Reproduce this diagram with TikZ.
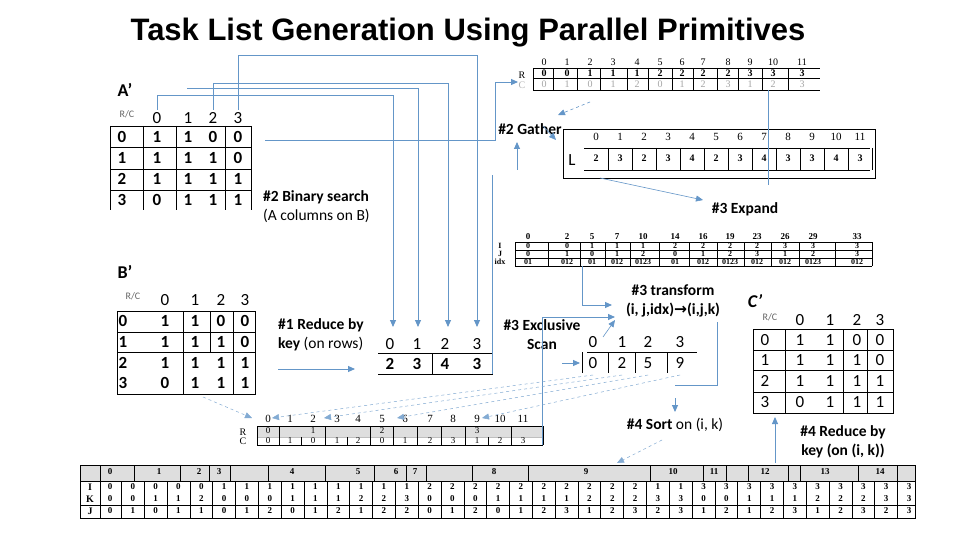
\documentclass[tikz,border=0pt]{standalone}
\usepackage{fontspec}
\setmainfont{Carlito}
\newfontfamily\tms{Liberation Serif}
\newfontfamily\ars{Liberation Sans}
\newfontfamily\djv{DejaVu Sans}
\usetikzlibrary{arrows.meta}
\definecolor{conn}{RGB}{100,150,200}
\definecolor{cellgrey}{RGB}{222,222,222}
\tikzset{
 arr/.style={conn,line width=0.9pt,-{Triangle[length=7pt,width=6pt]}},
 ln/.style={conn,line width=0.9pt},
 dsh/.style={conn!80,dashed,line width=0.5pt,-{Triangle[length=7pt,width=6pt]}},
 tb/.style={font=\tms\fontsize{9}{9}\selectfont\bfseries,inner sep=0pt},
 tbg/.style={font=\tms\fontsize{9}{9}\selectfont,text=gray!70,inner sep=0pt},
 mx/.style={font=\fontsize{17}{17}\selectfont,inner sep=0pt},
 mxb/.style={font=\fontsize{17}{17}\selectfont\bfseries,inner sep=0pt},
 rc/.style={font=\fontsize{10}{10}\selectfont,text=gray!80!black,inner sep=0pt},
 lbl/.style={font=\fontsize{15.5}{19}\selectfont,inner sep=0pt,align=center},
 grid/.style={line width=0.7pt}
}
\begin{document}
\begin{tikzpicture}[x=1pt,y=-1pt]
\useasboundingbox (0,0) rectangle (960,540);
\fill[white] (0,0) rectangle (960,540);
\node[font=\ars\bfseries\fontsize{31}{31}\selectfont,inner sep=0] (title) at (468,33) {Task List Generation Using Parallel Primitives};

% ---------- A'
\node[font=\fontsize{18}{18}\selectfont\bfseries] (Alab) at (125,90) {A’};
\node[rc] (Arc) at (127,114) {R/C};
\foreach \x/\t [count=\i] in {157/0,188/1,213/2,238/3} \node[mx] (Ah\i) at (\x,118) {\t};
\draw[grid] (110,126)--(251,126) (110,147)--(251,147) (110,169)--(251,169) (110,190)--(251,190);
\foreach \x in {110,143,176,225,251} \draw[grid] (\x,126)--(\x,210);
\foreach \y/\r/\a/\b/\c/\d [count=\i] in {137/0/1/1/0/0,158/1/1/1/1/0,179/2/1/1/1/1,200/3/0/1/1/1}{
 \node[mxb] (Ar\i) at (122,\y) {\r};
 \node[mxb] (Aa\i) at (157,\y) {\a}; \node[mxb] (Ab\i) at (188,\y) {\b};
 \node[mxb] (Ac\i) at (213,\y) {\c}; \node[mxb] (Ad\i) at (238,\y) {\d};}

% ---------- B'
\node[font=\fontsize{18}{18}\selectfont\bfseries] (Blab) at (125,272) {B’};
\node[rc] (Brc) at (133,296) {R/C};
\foreach \x/\t [count=\i] in {165/0,195/1,221/2,245/3} \node[mx] (Bh\i) at (\x,300) {\t};
\draw[grid] (117,311) rectangle (255,394);
\draw[grid] (117,332)--(255,332) (117,352)--(255,352);
\draw[grid] (183,311)--(183,394) (233,311)--(233,394) (210,311)--(210,352);
\foreach \y/\r/\a/\b/\c/\d [count=\i] in {321/0/1/1/0/0,342/1/1/1/1/0,363/2/1/1/1/1,383/3/0/1/1/1}{
 \node[mxb] (Br\i) at (123,\y) {\r};
 \node[mxb] (Ba\i) at (165,\y) {\a}; \node[mxb] (Bb\i) at (195,\y) {\b};
 \node[mxb] (Bc\i) at (221,\y) {\c}; \node[mxb] (Bd\i) at (245,\y) {\d};}

% ---------- labels
\node[lbl,anchor=west,align=left] (bs) at (263,207) {\textbf{\#2 Binary search}\\(A columns on B)};
\node[lbl,anchor=west,align=left] (red1) at (278,335) {\textbf{\#1 Reduce by}\\\textbf{key} (on rows)};
\node[lbl] (gather) at (530,129) {\textbf{\#2 Gather}};
\node[lbl] (expand) at (745,209) {\textbf{\#3 Expand}};
\node[lbl] (trans) at (673,301) {\textbf{\#3 transform}\\\textbf{(i, j,idx){\djv\bfseries →}(i,j,k)}};
\node[lbl] (scanl) at (542,335) {\textbf{\#3 Exclusive}\\\textbf{Scan}};
\node[lbl] (sortl) at (675,425) {\textbf{\#4 Sort} on (i, k)};
\node[lbl] (red4) at (843,442) {\textbf{\#4 Reduce by}\\\textbf{key (on (i, k))}};

% ---------- reduce array
\foreach \x/\t [count=\i] in {390/0,417/1,445/2,477/3} \node[mx] (Rh\i) at (\x,344) {\t};
\foreach \x/\t [count=\i] in {390/2,417/3,445/4,477/3} \node[mxb] (Rv\i) at (\x,364) {\t};
\draw[grid] (378,353)--(493,353) (378,374)--(493,374) (432,353)--(432,374);

% ---------- R/C top table
\node[font=\tms\fontsize{10}{10}\selectfont] (RCr) at (522,75) {R};
\node[font=\tms\fontsize{10}{10}\selectfont,text=gray!60] (RCc) at (522,85) {C};
\foreach \x/\r/\c [count=\i] in {544/0/0,567/0/1,590/1/0,613/1/1,637/1/2,660/2/0,682/2/1,703/2/2,728/2/3,750/3/1,773/3/2,802/3/3}{
 \node[inner sep=0,font=\tms\fontsize{10}{10}\selectfont] (RCh\i) at (\x,62) {\the\numexpr\i-1\relax};
 \node[tb,font=\tms\fontsize{10}{10}\selectfont\bfseries] (RCv\i) at (\x,73) {\r};
 \node[tbg,font=\tms\fontsize{10}{10}\selectfont] (RCw\i) at (\x,84) {\c};}
\draw[grid] (533,68)--(820,68) (533,78)--(820,78) (533,90)--(820,90);
\foreach \x in {533,553,577,600,627,648,672,693,717,738,762,788} \draw[grid] (\x,68)--(\x,90);

% ---------- L table
\draw[grid] (563,129) rectangle (875,178);
\node[font=\fontsize{17}{17}\selectfont] (Llab) at (572,160) {L};
\draw[grid] (584,148)--(870,148) (584,170)--(870,170);
\foreach \v [count=\i] in {2,3,2,3,4,2,3,4,3,3,4,3}{
 \node[font=\tms\fontsize{11}{11}\selectfont,inner sep=0] (Lh\i) at ({584+24*\i-12},137) {\the\numexpr\i-1\relax};
 \node[tb,font=\tms\fontsize{10}{10}\selectfont\bfseries] (Lv\i) at ({584+24*\i-12},158) {\v};
 \draw[grid] ({584+24*\i},148)--({584+24*\i},170);}

% ---------- Expand table
\foreach \t [count=\i] in {I,J,idx} \node[tb,font=\tms\fontsize{8}{8}\selectfont\bfseries] (El\i) at (500,{238+8*\i}) {\t};
\draw[grid] (515,242)--(872,242) (515,250)--(872,250) (515,258)--(872,258) (515,266)--(872,266);
\foreach \x in {515,548,580,605,630,659,689,717,744,771,799,835,872} \draw[grid] (\x,242)--(\x,266);
\foreach \x/\h/\a/\b/\c [count=\i] in {528/0/0/0/01,567/2/0/1/012,592/5/1/0/01,617/7/1/1/012,643/10/1/2/0123,675/14/2/0/01,703/16/2/1/012,730/19/2/2/0123,757/23/2/3/012,785/26/3/1/012,813/29/3/2/0123,857/33/3/3/012}{
 \node[tb] (Eh\i) at (\x,237) {\h};
 \node[tb,font=\tms\fontsize{8}{8}\selectfont\bfseries] (Ea\i) at (\x,246) {\a};
 \node[tb,font=\tms\fontsize{8}{8}\selectfont\bfseries] (Eb\i) at (\x,254) {\b};
 \node[tb,font=\tms\fontsize{8}{8}\selectfont\bfseries] (Ec\i) at (\x,262) {\c};}

% ---------- Scan table
\foreach \x/\h/\v [count=\i] in {593/0/0,622/1/2,648/2/5,680/3/9}{
 \node[mx] (Sh\i) at (\x,342) {\h}; \node[mx] (Sv\i) at (\x,363) {\v};}
\draw[grid] (587,352)--(697,352);
\foreach \x in {582,608,635,667} \draw[grid] (\x,352)--(\x,373);

% ---------- C'
\node[font=\fontsize{18}{18}\selectfont\bfseries\itshape] (Clab) at (755,301) {C’};
\node[rc] (Crc) at (770,317) {R/C};
\foreach \x/\t [count=\i] in {800/0,830/1,857/2,880/3} \node[mx] (Ch\i) at (\x,320) {\t};
\draw[grid] (753,329) rectangle (893,413);
\foreach \y in {350,370,392} \draw[grid] (753,\y)--(893,\y);
\foreach \x in {785,843,867} \draw[grid] (\x,329)--(\x,413);
\foreach \y/\r/\a/\b/\c/\d [count=\i] in {340/0/1/1/0/0,360/1/1/1/1/0,381/2/1/1/1/1,402/3/0/1/1/1}{
 \node[mx] (Cr\i) at (765,\y) {\r};
 \node[mx] (Ca\i) at (800,\y) {\a}; \node[mx] (Cb\i) at (830,\y) {\b};
 \node[mx] (Cc\i) at (857,\y) {\c}; \node[mx] (Cd\i) at (880,\y) {\d};}

% ---------- sorted R/C table
\fill[cellgrey] (257,426) rectangle (543,437);
\draw[grid] (257,426)--(543,426) (257,445)--(543,445);
\draw[gray!50,line width=0.4pt] (257,437)--(543,437);
\node[font=\tms\fontsize{10}{10}\selectfont] (SRr) at (243,432) {R};
\node[font=\tms\fontsize{10}{10}\selectfont] (SRc) at (243,441) {C};
\foreach \x/\c [count=\i] in {268/0,290/1,313/0,337/1,358/2,382/0,405/1,430/2,453/3,477/1,500/2,523/3}{
 \node[font=\tms\fontsize{11}{11}\selectfont,inner sep=0] (SRh\i) at (\x,419) {\the\numexpr\i-1\relax};
 \node[font=\tms\fontsize{9}{9}\selectfont,inner sep=0] (SRw\i) at (\x,441) {\c};}
\foreach \x/\r [count=\i] in {268/0,313/1,382/2,477/3} \node[font=\tms\fontsize{9}{9}\selectfont,inner sep=0] (SRv\i) at (\x,431) {\r};
\foreach \x in {257,279,301,325,347,370,393,417,441,465,488,511,543} \draw[grid] (\x,437)--(\x,445);
\foreach \x in {257,279,325,370,393,417,441,465,511,543} \draw[grid] (\x,426)--(\x,437);

% ---------- bottom table
\fill[cellgrey] (80,465) rectangle (915,481);
\draw[grid] (80,465) rectangle (915,518);
\draw[grid] (80,481)--(915,481) (80,505)--(915,505);
\draw[grid] (100,465)--(100,518);
\foreach \t/\y [count=\i] in {I/487,K/499,J/511} \node[font=\tms\fontsize{10}{10}\selectfont\bfseries,inner sep=0] (BTl\i) at (90,\y) {\t};
\foreach \x [count=\i] in {110,159,199,219,292,358,396,415,494,586,673,714,765,825,880} \node[tb,font=\tms\fontsize{9}{9}\selectfont\bfseries] (BTh\i) at (\x,472) {\the\numexpr\i-1\relax};
\foreach \v [count=\i] in {0,0,0,0,0,1,1,1,1,1,1,1,1,1,2,2,2,2,2,2,2,2,2,2,1,1,3,3,3,3,3,3,3,3,3,3}
 \node[tb,font=\tms\fontsize{9}{9}\selectfont\bfseries] (BTi\i) at ({110+22.83*(\i-1)},487) {\v};
\foreach \v [count=\i] in {0,0,1,1,2,0,0,0,1,1,1,2,2,3,0,0,0,1,1,1,1,2,2,2,3,3,0,0,1,1,1,2,2,2,3,3}
 \node[tb,font=\tms\fontsize{9}{9}\selectfont\bfseries] (BTk\i) at ({110+22.83*(\i-1)},499) {\v};
\foreach \v [count=\i] in {0,1,0,1,1,0,1,2,0,1,2,1,2,2,0,1,2,0,1,2,3,1,2,3,2,3,1,2,1,2,3,1,2,3,2,3}
 \node[tb,font=\tms\fontsize{9}{9}\selectfont\bfseries] (BTj\i) at ({110+22.83*(\i-1)},511) {\v};
\foreach \i in {1,...,35} \draw[grid] ({110+22.83*(\i-1)+11.4},481)--({110+22.83*(\i-1)+11.4},518);
\foreach \x in {134,180,209,230,268,325,374,406,426,472,528,650,703,726,748,788,800,858,897} \draw[grid] (\x,465)--(\x,481);

% ---------- connectors
\draw[arr] (157,110)--(157,95)--(393,95)--(393,327);
\draw[arr] (187,88)--(418,88)--(418,327);
\draw[arr] (213,110)--(213,83)--(448,83)--(448,327);
\draw[arr] (238,110)--(238,55)--(477,55)--(477,327);
\draw[arr] (265,140)--(495,140)--(495,82)--(518,82);
\draw[ln] (492,374)--(492,175);
\draw[arr] (517,170)--(517,142);
\draw[arr,line width=0.6pt,dashed] (590,102)--(558,115);
\draw[arr,line width=0.6pt] (543,126)--(556,140);
\draw[arr,line width=0.6pt] (600,178)--(703,200);
\draw[ln,line width=0.6pt] (768,90)--(768,185);
\draw[arr] (582,266)--(582,305)--(612,305);
\draw[arr] (542,445)--(542,317)--(615,317);
\draw[arr,line width=0.6pt] (603,337)--(615,320);
\draw[arr] (562,363)--(580,363);
\draw[ln] (717,322)--(717,385)--(675,385);
\draw[arr] (675,398)--(675,412);
\draw[dsh] (662,440)--(617,463);
\draw[arr] (775,463)--(775,417);
\draw[arr] (278,369)--(355,369);
\draw[dsh] (203,397)--(252,418);
\draw[dsh] (593,375)--(272,418);
\draw[dsh] (622,375)--(324,418);
\draw[dsh] (648,375)--(397,418);
\draw[dsh] (680,375)--(482,418);
\end{tikzpicture}
\end{document}
